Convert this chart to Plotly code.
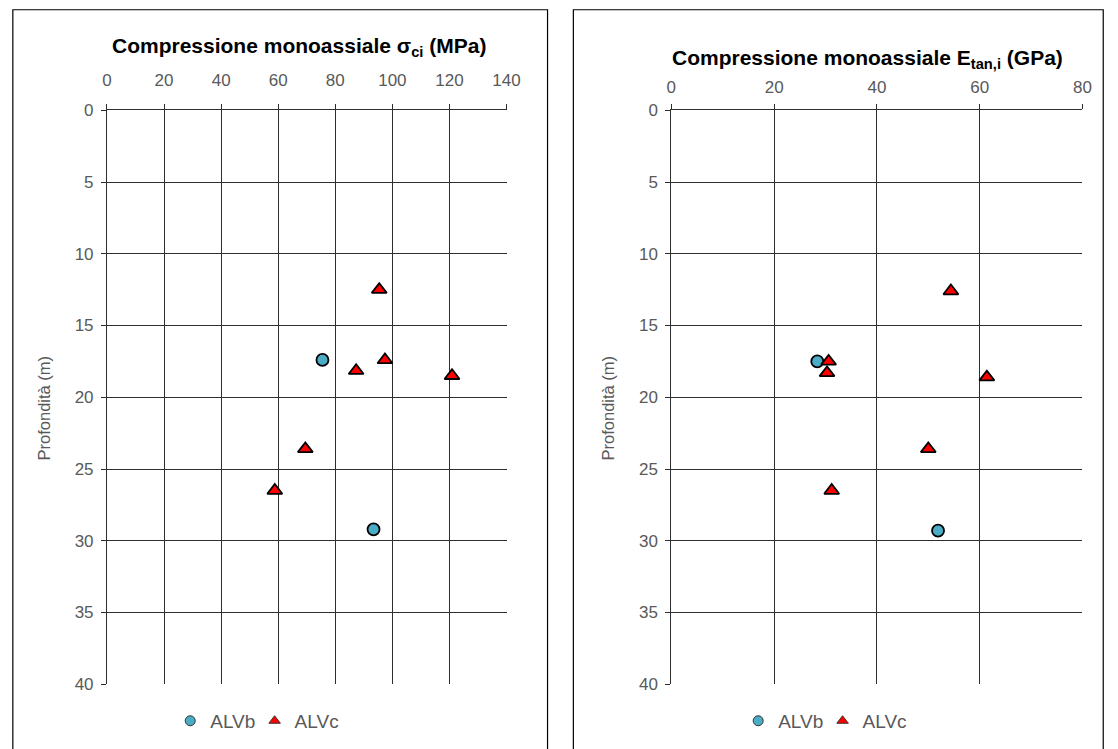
import plotly.graph_objects as go

# Data
depth_alvb = [17.4, 29.2]
sigma_alvb = [75.5, 93.4]
depth_alvc = [12.5, 17.4, 18.15, 18.5, 23.6, 26.5]
sigma_alvc = [95.4, 97.4, 87.3, 120.9, 69.5, 58.8]

etan_depth_alvb = [17.5, 29.3]
etan_alvb = [28.4, 51.9]
etan_depth_alvc = [12.6, 17.5, 18.3, 18.6, 23.6, 26.5]
etan_alvc = [54.4, 30.6, 30.3, 61.4, 50.0, 31.2]

series_names = ["ALVb", "ALVc"]
x_ticks_sigma = [0, 20, 40, 60, 80, 100, 120, 140]
x_ticks_etan = [0, 20, 40, 60, 80]
y_ticks = [0, 5, 10, 15, 20, 25, 30, 35, 40]

W, H = 1118, 749
FONT = "Liberation Sans, Arial, sans-serif"
GRID = "#2e2e2e"
TICKC = "#595959"

# screen -> page correction (observed photo scale)
SX, BX = 0.99, 1.6
SY, BY = 0.976, 8.1

def px(x):
    return ((x - BX) / SX) / W

def py(y):
    return 1 - ((y - BY) / SY) / H

fig = go.Figure()

circle = dict(symbol="circle", size=12, color="#4BACC6", line=dict(color="#000", width=1.8))
tri = dict(symbol="triangle-up", size=13, color="#FF0000", line=dict(color="#000", width=1.8))
circle_leg = dict(symbol="circle", size=10, color="#4BACC6", line=dict(color="#333", width=1))
tri_leg = dict(symbol="triangle-up", size=10, color="#FF0000", line=dict(color="#333", width=1))

fig.add_trace(go.Scatter(x=sigma_alvb, y=depth_alvb, mode="markers", name=series_names[0], marker=circle,
                         xaxis="x", yaxis="y", showlegend=False))
fig.add_trace(go.Scatter(x=sigma_alvc, y=depth_alvc, mode="markers", name=series_names[1], marker=tri,
                         xaxis="x", yaxis="y", showlegend=False))
fig.add_trace(go.Scatter(x=etan_alvb, y=etan_depth_alvb, mode="markers", name=series_names[0], marker=circle,
                         xaxis="x2", yaxis="y2", showlegend=False))
fig.add_trace(go.Scatter(x=etan_alvc, y=etan_depth_alvc, mode="markers", name=series_names[1], marker=tri,
                         xaxis="x2", yaxis="y2", showlegend=False))

# legend entries: one small legend per entry so that spacing follows the reference
legend_specs = [("legend", "x", "y", series_names[0], circle_leg, 168),
                ("legend2", "x", "y", series_names[1], tri_leg, 253),
                ("legend3", "x2", "y2", series_names[0], circle_leg, 740),
                ("legend4", "x2", "y2", series_names[1], tri_leg, 825)]
legfont = dict(family=FONT, size=19, color=TICKC)
leg_layout = {}
for leg, xa, ya, nm, mk, lx in legend_specs:
    fig.add_trace(go.Scatter(x=[None], y=[None], mode="markers", name=nm, marker=mk,
                             xaxis=xa, yaxis=ya, legend=leg))
    leg_layout[leg] = dict(orientation="h", x=px(lx), y=py(721), xanchor="left", yanchor="middle",
                           font=legfont, itemwidth=30, bgcolor="rgba(0,0,0,0)", borderwidth=0)

common_x = dict(side="top", showgrid=True, gridcolor=GRID, gridwidth=1, showline=True,
                linecolor=GRID, linewidth=1, ticks="outside", ticklen=5, tickcolor=GRID,
                tickfont=dict(family=FONT, size=17, color=TICKC), zeroline=False)
common_y = dict(showgrid=True, gridcolor=GRID, gridwidth=1, showline=True, linecolor=GRID,
                linewidth=1, ticks="outside", ticklen=5, tickcolor=GRID,
                tickfont=dict(family=FONT, size=17, color=TICKC), zeroline=False,
                range=[40, 0], tickvals=y_ticks, ticklabelstandoff=4)

ytop, ybot = py(109.5), py(684.3)

fig.update_layout(
    width=W, height=H,
    margin=dict(l=0, r=0, t=0, b=0),
    paper_bgcolor="white", plot_bgcolor="white",
    xaxis=dict(common_x, domain=[px(104.3), px(506.7)], range=[0, 140],
               tickvals=x_ticks_sigma, anchor="y", ticklabelstandoff=11),
    yaxis=dict(common_y, domain=[ybot, ytop], anchor="x"),
    xaxis2=dict(common_x, domain=[px(672.7), px(1086.7)], range=[0, 80],
                tickvals=x_ticks_etan, anchor="y2", ticklabelstandoff=4),
    yaxis2=dict(common_y, domain=[ybot, ytop], anchor="x2"),
    showlegend=True,
    **leg_layout,
    shapes=[
        dict(type="rect", xref="paper", yref="paper", x0=px(9.5), x1=px(548), y0=-0.05, y1=0.999,
             line=dict(color="#000", width=1.2), layer="below"),
        dict(type="rect", xref="paper", yref="paper", x0=px(574), x1=0.9993, y0=-0.05, y1=0.999,
             line=dict(color="#000", width=1.2), layer="below"),
    ],
    annotations=[
        dict(text="<b>Compressione monoassiale σ<sub>ci</sub> (MPa)</b>", xref="paper", yref="paper",
             x=px(298), y=py(46), xanchor="center", yanchor="middle", showarrow=False,
             font=dict(family=FONT, size=21, color="#000")),
        dict(text="<b>Compressione monoassiale E<sub>tan,i</sub> (GPa)</b>", xref="paper", yref="paper",
             x=px(870), y=py(58), xanchor="center", yanchor="middle", showarrow=False,
             font=dict(family=FONT, size=21, color="#000")),
        dict(text="Profondità (m)", xref="paper", yref="paper", x=px(41), y=py(408), textangle=-90,
             xanchor="center", yanchor="middle", showarrow=False,
             font=dict(family=FONT, size=16.5, color=TICKC)),
        dict(text="Profondità (m)", xref="paper", yref="paper", x=px(609), y=py(408), textangle=-90,
             xanchor="center", yanchor="middle", showarrow=False,
             font=dict(family=FONT, size=16.5, color=TICKC)),
    ],
)

post = ("document.documentElement.style.margin='0';document.body.style.margin='0';"
        "document.documentElement.style.overflow='hidden';document.body.style.overflow='hidden';")
fig.write_html("out.html", post_script=post, config={"displayModeBar": False})
